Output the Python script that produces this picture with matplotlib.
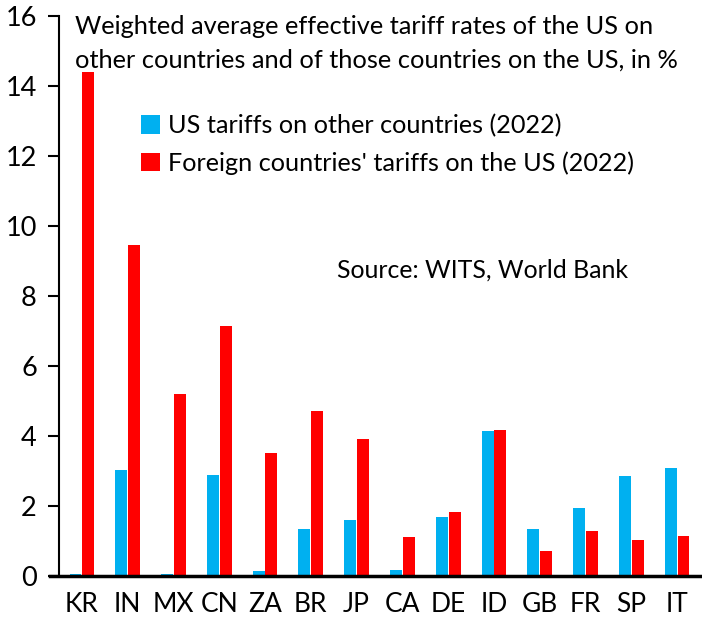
import matplotlib
matplotlib.use("Agg")
import matplotlib.pyplot as plt
import numpy as np

countries = ["KR", "IN", "MX", "CN", "ZA", "BR", "JP", "CA", "DE", "ID", "GB", "FR", "SP", "IT"]
us_tariffs = [0.05, 3.02, 0.05, 2.87, 0.13, 1.33, 1.59, 0.16, 1.68, 4.13, 1.33, 1.93, 2.85, 3.08]
foreign_tariffs = [14.38, 9.45, 5.19, 7.13, 3.50, 4.70, 3.90, 1.10, 1.82, 4.16, 0.70, 1.27, 1.02, 1.13]
yticks = [0, 2, 4, 6, 8, 10, 12, 14, 16]

plt.rcParams['font.family'] = ['Lato', 'DejaVu Sans']

fig = plt.figure(figsize=(7.02, 6.22), dpi=100)
ax = fig.add_axes([59/702, 1-575.7/622, (700-59)/702, 560/622])

x = np.arange(len(countries))
w = 0.26
ax.bar(x - w/2 - 0.01, us_tariffs, width=w, color='#00B0F0', label='US tariffs on other countries (2022)')
ax.bar(x + w/2 + 0.01, foreign_tariffs, width=w, color='#FF0000', label="Foreign countries' tariffs on the US (2022)")

ax.set_xlim(-0.5, len(countries) - 0.5)
ax.set_ylim(0, 16)
ax.set_yticks(yticks)
ax.set_yticklabels([str(t) for t in yticks], fontsize=19.5)
ax.set_xticks(x)
ax.set_xticklabels(countries, fontsize=19)
ax.tick_params(axis='x', length=0, pad=12)
ax.tick_params(axis='y', length=8, width=1.5, direction='out', pad=8)
for s in ['top', 'right']:
    ax.spines[s].set_visible(False)
ax.spines['left'].set_linewidth(1.5)
ax.spines['bottom'].set_linewidth(2.5)
ax.spines['bottom'].set_bounds(-0.7, len(countries) - 0.5)
ax.spines['bottom'].set_clip_on(False)

fig.text(75/702, 1-26/622, "Weighted average effective tariff rates of the US on",
         fontsize=18.3, va='center', ha='left')
fig.text(75/702, 1-60/622, "other countries and of those countries on the US, in %",
         fontsize=18.3, va='center', ha='left')

leg = ax.legend(loc='upper left', bbox_to_anchor=(141/702, 1-114/622),
                bbox_transform=fig.transFigure, frameon=False, fontsize=18.2,
                handlelength=0.75, handleheight=0.75, handletextpad=0.3,
                labelspacing=0.55, borderaxespad=0, borderpad=0)

fig.text(337/702, 1-270/622, "Source: WITS, World Bank", fontsize=17.9, va='center', ha='left')

fig.savefig("out.png", dpi=100)
